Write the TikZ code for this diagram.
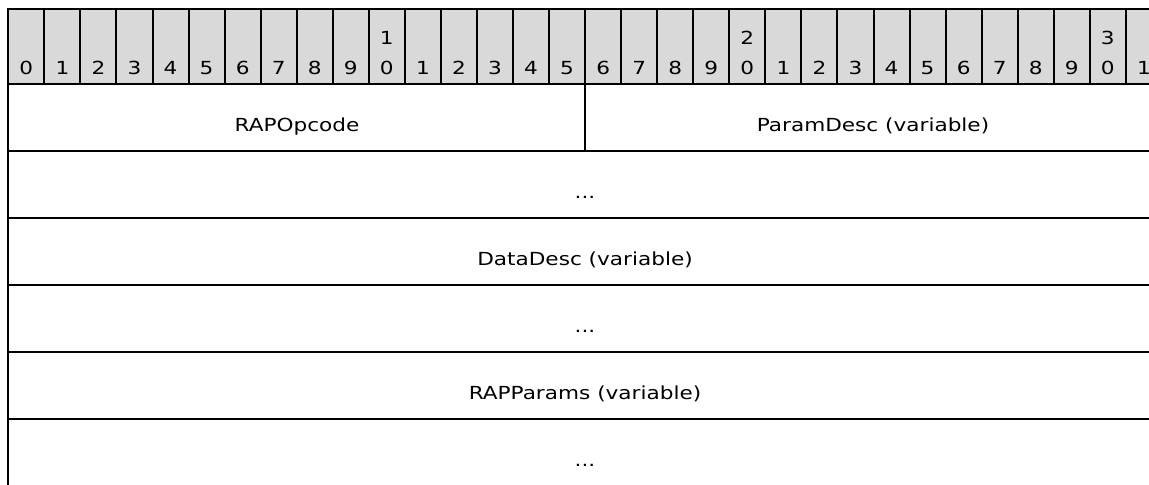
\documentclass[tikz,border=0pt]{standalone}
\usepackage{fontspec}
\setmainfont{DejaVu Sans}[FakeStretch=1.2]
\definecolor{hdrgray}{RGB}{217,217,217}
\begin{document}
\begin{tikzpicture}[x=0.75pt,y=-0.75pt,
  gridline/.style={line width=1.5pt, black},
  lbl/.style={font=\fontsize{13.5}{16}\selectfont, inner sep=0pt, anchor=base},
  bit/.style={font=\fontsize{13.5}{16}\selectfont, inner sep=0pt, anchor=base}]
\useasboundingbox (0,0) rectangle (1149,485);
% header background
\fill[hdrgray] (8.3,8.7) rectangle (1149,84);
% header separators
\foreach \i in {1,...,31} {
  \draw[gridline] ({8.3+36.05*\i},8.7) -- ({8.3+36.05*\i},84);
}
% outer border
\draw[gridline] (8.3,485) -- (8.3,8.7) -- (1149,8.7);
% row lines
\foreach \y in {84,151,218,285,352,419} {
  \draw[gridline] (8.3,\y) -- (1149,\y);
}
% field divider in first row
\draw[gridline] (585.1,84) -- (585.1,151);
% bit numbers
\foreach \i in {0,...,31} {
  \pgfmathtruncatemacro{\units}{mod(\i,10)}
  \node[bit] (b\i) at ({8.3+36.05*\i+18.03},74.5) {\units};
}
\foreach \i/\t in {10/1,20/2,30/3} {
  \node[bit] (bt\i) at ({8.3+36.05*\i+18.03},45) {\t};
}
% field labels
\node[lbl] (rapop) at (297,131.7) {RAPOpcode};
\node[lbl] (param) at (873,131.7) {ParamDesc (variable)};
\node[lbl] (dots1) at (585,198.7) {...};
\node[lbl] (data) at (585,265.7) {DataDesc (variable)};
\node[lbl] (dots2) at (585,332.7) {...};
\node[lbl] (rapparams) at (585,399.7) {RAPParams (variable)};
\node[lbl] (dots3) at (585,466.7) {...};
\end{tikzpicture}
\end{document}
